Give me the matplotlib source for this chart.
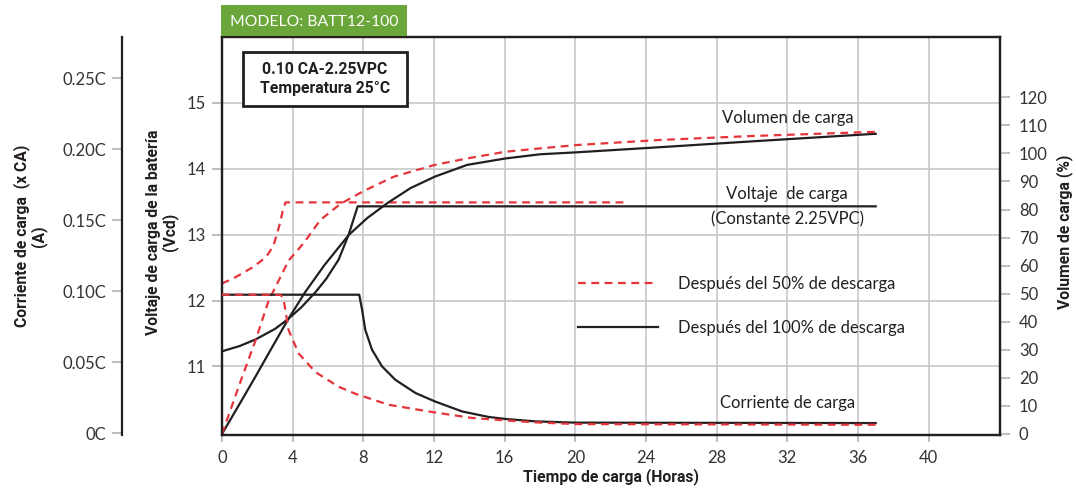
import matplotlib
matplotlib.use('Agg')
import matplotlib.pyplot as plt
from matplotlib.patches import Rectangle

# --- data ---
# charge voltage (V), after 100% and 50% discharge
t_volt100 = [0, 1, 1.9, 3, 3.7, 4.5, 5.3, 5.9, 6.6, 7.17, 7.68, 37]
volt100 = [11.23, 11.31, 11.41, 11.57, 11.71, 11.9, 12.13, 12.33, 12.62, 13.0, 13.43, 13.43]
t_volt50 = [0, 0.6, 1.13, 1.7, 2.26, 2.6, 2.92, 3.1, 3.3, 3.45, 3.6, 23]
volt50 = [12.26, 12.33, 12.41, 12.5, 12.61, 12.7, 12.84, 13.0, 13.19, 13.38, 13.49, 13.49]

# charged volume (%)
t_vol100 = [0, 0.95, 1.9, 2.8, 3.7, 4.7, 5.8, 7.17, 8.21, 9.34, 10.66, 12.04, 13.87, 16.04,
            18.02, 20.1, 25, 30, 37]
vol100 = [0, 10.2, 20.5, 30.5, 40.4, 50.5, 60.2, 70.9, 76.9, 82.2, 87.6, 91.7, 95.9, 98.2,
          99.7, 100.4, 102.3, 104.3, 107]
t_vol50 = [0, 1.13, 1.89, 2.64, 3.77, 4.62, 5.57, 6.7, 8.02, 9.72, 12.04, 13.87, 16.04, 18.02,
           20.1, 24.8, 30, 37]
vol50 = [0, 20.1, 33.2, 47.5, 61.8, 68.0, 76.3, 82.0, 86.6, 91.7, 95.9, 98.2, 100.6, 101.8,
         103, 104.8, 106.2, 107.7]

# charge current (x CA)
t_cur100 = [0, 7.77, 7.85, 7.93, 8.11, 8.49, 9.06, 9.81, 10.95, 12.04, 13.59, 15.1, 16.04,
            17.74, 20, 37]
cur100 = [0.0974, 0.0974, 0.092, 0.0868, 0.0727, 0.0587, 0.0469, 0.0375, 0.0282, 0.0223,
          0.0152, 0.0113, 0.0099, 0.0082, 0.0073, 0.007]
t_cur50 = [0, 3.3, 3.4, 3.49, 3.77, 4.34, 5.28, 6.6, 7.54, 9.43, 12.04, 14.16, 16.04, 17.74,
           20, 37]
cur50 = [0.0974, 0.0974, 0.096, 0.094, 0.0725, 0.056, 0.043, 0.0326, 0.0277, 0.0199, 0.0145,
         0.0106, 0.0089, 0.0075, 0.0063, 0.0058]

x_ticks = [0, 4, 8, 12, 16, 20, 24, 28, 32, 36, 40]
volt_ticks = [11, 12, 13, 14, 15]
vol_ticks = list(range(0, 121, 10))
cur_ticks = [0, 0.05, 0.10, 0.15, 0.20, 0.25]
cur_labels = ['0C', '0.05C', '0.10C', '0.15C', '0.20C', '0.25C']

RED = '#e5343a'
BLACK = '#231f20'
GRID = '#c8c8c8'
TICK = '#bfbfbf'
BOLD = ['Roboto', 'DejaVu Sans']

plt.rcParams['font.family'] = ['Lato', 'DejaVu Sans']
plt.rcParams['font.size'] = 12

fig = plt.figure(figsize=(10.76, 4.95), dpi=100)
ax = fig.add_axes([0.2063, 0.1212, 0.7233, 0.8041])
ax2 = ax.twinx()
ax3 = ax.twinx()

# voltage
ax.plot(t_volt100, volt100, color=BLACK, lw=1.6)
ax.plot(t_volt50, volt50, color=RED, lw=1.6, dashes=(3.5, 2.5))
ax.set_xlim(0, 44.05)
ax.set_ylim(9.96, 16.0)
ax.set_xticks(x_ticks)
ax.set_yticks(volt_ticks)
ax.grid(True, color=GRID, lw=1.2)
ax.set_axisbelow(True)

# volume
ax2.plot(t_vol100, vol100, color=BLACK, lw=1.6)
ax2.plot(t_vol50, vol50, color=RED, lw=1.6, dashes=(3.5, 2.5))
ax2.set_ylim(-0.36, 141.5)
ax2.set_yticks(vol_ticks)

# current
l100, = ax3.plot(t_cur100, cur100, color=BLACK, lw=1.6, label='Después del 100% de descarga')
l50, = ax3.plot(t_cur50, cur50, color=RED, lw=1.6, dashes=(3.5, 2.5), label='Después del 50% de descarga')
ax3.set_ylim(-0.0014, 0.2789)
ax3.set_yticks(cur_ticks)
ax3.set_yticklabels(cur_labels)
ax3.yaxis.set_ticks_position('left')
ax3.yaxis.set_label_position('left')
ax3.spines['left'].set_position(('axes', -0.1285))
for s in ['right', 'top', 'bottom']:
    ax3.spines[s].set_visible(False)
ax3.spines['left'].set_visible(True)
ax3.spines['left'].set_color(BLACK)
ax3.spines['left'].set_linewidth(1.6)

for a in (ax, ax2):
    for s in a.spines.values():
        s.set_color(BLACK)
        s.set_linewidth(1.6)

for a in (ax, ax2, ax3):
    a.tick_params(axis='both', color=TICK, width=1.5, length=7.5, pad=4,
                  labelsize=12, labelcolor='#333333')
ax.tick_params(axis='x', length=5, pad=6)
ax2.tick_params(axis='y', pad=6)

lab = dict(fontfamily=BOLD, fontsize=11.3, fontweight='bold', color=BLACK)
ax.set_xlabel('Tiempo de carga (Horas)', **lab)
ax.xaxis.set_label_coords(0.5, -0.083)
ax.set_ylabel('Voltaje de carga de la batería\n(Vcd)', linespacing=1.0, **lab)
ax.yaxis.set_label_coords(-0.0566, 0.51)
ax2.set_ylabel('Volumen de carga (%)', **lab)
ax2.yaxis.set_label_coords(1.072, 0.51)
ax3.set_ylabel('Corriente de carga  (x CA)\n(A)', linespacing=1.0, **lab)
ax3.yaxis.set_label_coords(-0.2249, 0.5)

# annotations
ann = dict(ha='center', va='center', fontsize=12, color=BLACK)
ax.text(32.0, 14.77, 'Volumen de carga', **ann)
ax.text(32.0, 13.61, 'Voltaje  de carga', **ann)
ax.text(32.0, 13.23, '(Constante 2.25VPC)', **ann)
ax.text(32.0, 10.45, 'Corriente de carga', **ann)

ax3.legend(handles=[l50, l100], loc='upper left', bbox_to_anchor=(0.4576, 0.3995),
           frameon=False, borderpad=0, borderaxespad=0, handlelength=4.8,
           handletextpad=1.2, labelspacing=1.7, fontsize=12, labelcolor=BLACK)

# condition box
ax.add_patch(Rectangle((0.0274, 0.8266), 0.21, 0.1364, transform=ax.transAxes,
                       facecolor='white', edgecolor=BLACK, lw=2.0, zorder=5))
ax.text(0.1324, 0.8945, '0.10 CA-2.25VPC\nTemperatura 25°C', transform=ax.transAxes,
        ha='center', va='center', linespacing=1.35, zorder=6, **lab)

# model header
fig.add_artist(Rectangle((0.2054, 0.9273), 0.1729, 0.0626, transform=fig.transFigure,
                         facecolor='#6aa639', edgecolor='none'))
fig.text(0.2918, 0.9556, 'MODELO: BATT12-100', ha='center', va='center',
         fontsize=11.3, color='white')

fig.savefig('out.png', dpi=100)
